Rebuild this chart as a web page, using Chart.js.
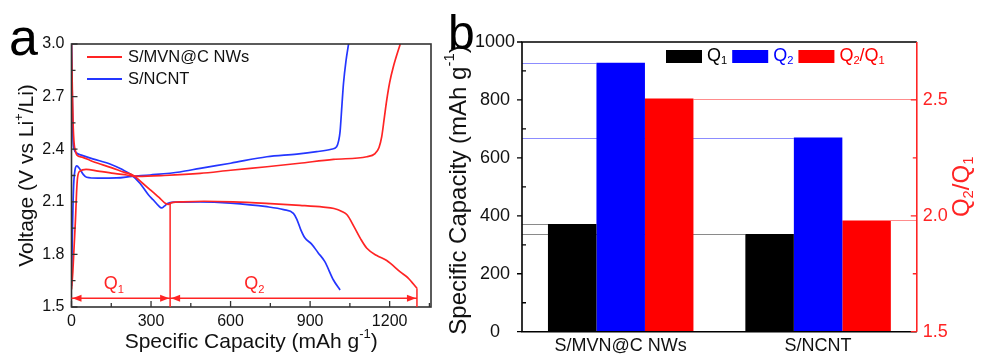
<!DOCTYPE html>
<html>
<head>
<meta charset="utf-8">
<script src="https://cdn.jsdelivr.net/npm/chart.js@4.4.1/dist/chart.umd.min.js"></script>
<style>
  html, body { margin: 0; padding: 0; background: #fff; }
  #wrap { position: relative; width: 982px; height: 356px; overflow: hidden; background: #fff; }
  .box { position: absolute; top: 0; height: 356px; }
  #boxA { left: 0; width: 450px; }
  #boxB { left: 440px; width: 542px; }
</style>
</head>
<body>
<div id="wrap">
  <div class="box" id="boxA"><canvas id="chartA" width="450" height="356"></canvas></div>
  <div class="box" id="boxB"><canvas id="chartB" width="542" height="356"></canvas></div>
</div>
<script>
// ---- panel a: charge/discharge curves ----
const mvnDisCap = [0, 3, 6, 10, 15, 20, 40, 80, 150, 200, 232, 265, 296, 330, 355, 366, 378, 420, 500, 610, 750, 862, 950, 990, 1020, 1040, 1065, 1090, 1114, 1150, 1189, 1202, 1240, 1270, 1303];
const mvnDisV   = [3.0, 2.75, 2.55, 2.43, 2.39, 2.367, 2.355, 2.33, 2.295, 2.268, 2.252, 2.21, 2.17, 2.125, 2.09, 2.085, 2.095, 2.1, 2.103, 2.1, 2.09, 2.08, 2.07, 2.062, 2.045, 2.025, 1.96, 1.89, 1.835, 1.795, 1.765, 1.75, 1.70, 1.665, 1.607];
const mvnChgCap = [0, 5, 10, 15, 19, 23, 32, 55, 100, 160, 208, 250, 350, 485, 600, 737, 860, 988, 1114, 1145, 1160, 1170, 1180, 1189, 1200, 1214, 1240];
const mvnChgV   = [1.6, 1.7, 1.85, 2.0, 2.15, 2.24, 2.275, 2.285, 2.275, 2.262, 2.253, 2.245, 2.25, 2.262, 2.28, 2.30, 2.32, 2.342, 2.357, 2.375, 2.41, 2.47, 2.58, 2.68, 2.78, 2.87, 3.0];
const ncntDisCap = [0, 2, 4, 6, 10, 20, 40, 80, 145, 190, 227, 258, 290, 309, 328, 340, 350, 362, 385, 485, 600, 737, 800, 837, 850, 865, 880, 905, 930, 955, 988, 1013];
const ncntDisV   = [3.0, 2.8, 2.6, 2.45, 2.4, 2.377, 2.365, 2.345, 2.316, 2.285, 2.253, 2.206, 2.14, 2.11, 2.078, 2.065, 2.075, 2.09, 2.098, 2.1, 2.093, 2.072, 2.055, 2.034, 2.0, 1.94, 1.895, 1.86, 1.81, 1.76, 1.654, 1.597];
const ncntChgCap = [0, 3, 6, 9, 13, 20, 30, 45, 57, 100, 170, 227, 296, 409, 485, 600, 737, 850, 925, 980, 1000, 1008, 1013, 1020, 1026, 1035, 1045];
const ncntChgV   = [1.62, 1.9, 2.1, 2.22, 2.28, 2.305, 2.29, 2.255, 2.24, 2.235, 2.236, 2.245, 2.253, 2.27, 2.291, 2.32, 2.357, 2.372, 2.386, 2.4, 2.414, 2.45, 2.5, 2.65, 2.776, 2.9, 3.0];

const capTicks = [0, 300, 600, 900, 1200];
const capMinor = [150, 450, 750, 1050, 1350];
const voltTicks = [1.5, 1.8, 2.1, 2.4, 2.7, 3.0];
const voltMinor = [1.65, 1.95, 2.25, 2.55, 2.85];

// Q1 / Q2 markers (capacity limits, arrow voltage, line tops, label spots)
const qLimits = [0, 372, 1303];
const qTopsV = [null, 2.095, 1.607];
const qArrowV = 1.55;
const qLabelCap = [160, 690];
const qLabelV = 1.63;

// ---- panel b: bars ----
const groups = ['S/MVN@C NWs', 'S/NCNT'];
const q1Values = [372, 337];
const q2Values = [928, 670];
const ratioValues = [2.506, 1.98];
const capAxisTicks = [0, 200, 400, 600, 800, 1000];
const capAxisMinor = [100, 300, 500, 700, 900];
const ratioTicks = [1.5, 2.0, 2.5];
const ratioMinor = [1.75, 2.25];

const RED = '#ff2424';
const BLUE = '#2436ff';
const FONT = '"Liberation Sans", Arial, sans-serif';
Chart.defaults.font.family = FONT;
Chart.defaults.color = '#000';

const pts = (xs, ys) => xs.map((x, i) => ({ x: x, y: ys[i] }));

function richWidth(ctx, parts, size) {
  let w = 0;
  for (const [t, m] of parts) {
    ctx.font = (m ? size * 0.62 : size) + 'px ' + FONT;
    w += ctx.measureText(t).width;
  }
  return w;
}

function drawRich(ctx, parts, x, y, size, color, align, angle) {
  ctx.save();
  ctx.translate(x, y);
  if (angle) ctx.rotate(angle);
  ctx.fillStyle = color;
  ctx.textBaseline = 'middle';
  ctx.textAlign = 'left';
  const w = richWidth(ctx, parts, size);
  let cx = align === 'center' ? -w / 2 : (align === 'right' ? -w : 0);
  for (const [t, m] of parts) {
    const s = m ? size * 0.62 : size;
    ctx.font = s + 'px ' + FONT;
    const dy = m === 'sub' ? size * 0.3 : (m === 'sup' ? -size * 0.36 : 0);
    ctx.fillText(t, cx, dy);
    cx += ctx.measureText(t).width;
  }
  ctx.restore();
}

function tickMarks(chart, id, values, len, color, outward) {
  const s = chart.scales[id], a = chart.chartArea, ctx = chart.ctx;
  ctx.save();
  ctx.strokeStyle = color;
  ctx.lineWidth = 1.3;
  ctx.beginPath();
  for (const v of values) {
    const p = s.getPixelForValue(v);
    if (s.isHorizontal()) {
      ctx.moveTo(p, a.bottom);
      ctx.lineTo(p, outward ? a.bottom + len : a.bottom - len);
    } else if (s.position === 'left') {
      ctx.moveTo(a.left, p);
      ctx.lineTo(outward ? a.left - len : a.left + len, p);
    } else {
      ctx.moveTo(a.right, p);
      ctx.lineTo(outward ? a.right + len : a.right - len, p);
    }
  }
  ctx.stroke();
  ctx.restore();
}

function arrowHead(ctx, x, y, dir) {
  ctx.beginPath();
  ctx.moveTo(x, y);
  ctx.lineTo(x - dir * 9, y - 3.5);
  ctx.lineTo(x - dir * 9, y + 3.5);
  ctx.closePath();
  ctx.fill();
}

const panelA = {
  id: 'panelA',
  afterDraw(chart) {
    const ctx = chart.ctx, a = chart.chartArea;
    const xs = chart.scales.x, ys = chart.scales.y;

    ctx.save();
    ctx.strokeStyle = '#333';
    ctx.lineWidth = 1.6;
    ctx.strokeRect(a.left, a.top, a.right - a.left, a.bottom - a.top);
    ctx.restore();
    tickMarks(chart, 'x', capTicks, 6, '#333', false);
    tickMarks(chart, 'x', capMinor, 4, '#333', false);
    tickMarks(chart, 'y', voltTicks, 6, '#333', false);
    tickMarks(chart, 'y', voltMinor, 4, '#333', false);

    // Q1 / Q2 markers
    ctx.save();
    ctx.strokeStyle = RED;
    ctx.fillStyle = RED;
    ctx.lineWidth = 1.5;
    const yb = ys.getPixelForValue(1.5);
    const ya = ys.getPixelForValue(qArrowV);
    ctx.beginPath();
    for (let i = 1; i < qLimits.length; i++) {
      const px = xs.getPixelForValue(qLimits[i]);
      ctx.moveTo(px, yb);
      ctx.lineTo(px, ys.getPixelForValue(qTopsV[i]));
    }
    ctx.moveTo(xs.getPixelForValue(qLimits[0]), ya);
    ctx.lineTo(xs.getPixelForValue(qLimits[2]), ya);
    ctx.stroke();
    for (let i = 0; i < qLimits.length - 1; i++) {
      arrowHead(ctx, xs.getPixelForValue(qLimits[i]) + 1, ya, -1);
      arrowHead(ctx, xs.getPixelForValue(qLimits[i + 1]) - 1, ya, 1);
    }
    ctx.restore();
    drawRich(ctx, [['Q', ''], ['1', 'sub']], xs.getPixelForValue(qLabelCap[0]), ys.getPixelForValue(qLabelV), 18, RED, 'center');
    drawRich(ctx, [['Q', ''], ['2', 'sub']], xs.getPixelForValue(qLabelCap[1]), ys.getPixelForValue(qLabelV), 18, RED, 'center');

    // legend
    const items = [['S/MVN@C NWs', RED, 57], ['S/NCNT', BLUE, 79]];
    ctx.save();
    ctx.lineWidth = 1.8;
    for (const [label, color, y] of items) {
      ctx.strokeStyle = color;
      ctx.beginPath();
      ctx.moveTo(87, y);
      ctx.lineTo(122, y);
      ctx.stroke();
      drawRich(ctx, [[label, '']], 128, y, 16.5, '#111', 'left');
    }
    ctx.restore();

    // axis titles
    drawRich(ctx, [['Specific Capacity (mAh g', ''], ['-1', 'sup'], [')', '']], (a.left + a.right) / 2, 342, 21, '#111', 'center');
    drawRich(ctx, [['Voltage (V vs Li', ''], ['+', 'sup'], ['/Li)', '']], 27, (a.top + a.bottom) / 2, 21, '#111', 'center', -Math.PI / 2);

    ctx.save();
    ctx.fillStyle = '#000';
    ctx.font = '52px ' + FONT;
    ctx.textBaseline = 'alphabetic';
    ctx.fillText('a', 9, 55);
    ctx.restore();
  }
};

new Chart(document.getElementById('chartA'), {
  type: 'scatter',
  data: {
    datasets: [
      { label: 'S/MVN@C NWs', data: pts(mvnDisCap, mvnDisV), borderColor: RED },
      { label: 'S/MVN@C NWs charge', data: pts(mvnChgCap, mvnChgV), borderColor: RED },
      { label: 'S/NCNT', data: pts(ncntDisCap, ncntDisV), borderColor: BLUE },
      { label: 'S/NCNT charge', data: pts(ncntChgCap, ncntChgV), borderColor: BLUE }
    ]
  },
  options: {
    responsive: false,
    animation: false,
    layout: { padding: { left: 0, right: 19, top: 44, bottom: 0 } },
    elements: {
      point: { radius: 0 },
      line: { borderWidth: 1.7, cubicInterpolationMode: 'monotone', fill: false }
    },
    datasets: { scatter: { showLine: true } },
    plugins: { legend: { display: false }, tooltip: { enabled: false } },
    scales: {
      x: {
        type: 'linear', min: 0, max: 1356,
        grid: { display: false, drawTicks: false }, border: { display: false },
        afterBuildTicks: s => { s.ticks = capTicks.map(v => ({ value: v })); },
        afterFit: s => { s.height = 49; },
        ticks: { padding: 5, color: '#111', font: { size: 16 }, callback: v => String(v) }
      },
      y: {
        type: 'linear', min: 1.5, max: 3.0,
        grid: { display: false, drawTicks: false }, border: { display: false },
        afterBuildTicks: s => { s.ticks = voltTicks.map(v => ({ value: v })); },
        afterFit: s => { s.width = 71.5; },
        ticks: { padding: 7, color: '#111', font: { size: 16 }, callback: v => v.toFixed(1) }
      }
    }
  },
  plugins: [panelA]
});

const panelB = {
  id: 'panelB',
  beforeDatasetsDraw(chart) {
    const ctx = chart.ctx, a = chart.chartArea;
    ctx.save();
    ctx.lineWidth = 1;
    const leftSets = [[0, '#8a8a8a'], [1, '#8c8cff']];
    for (const [di, color] of leftSets) {
      const meta = chart.getDatasetMeta(di);
      ctx.strokeStyle = color;
      ctx.beginPath();
      meta.data.forEach(bar => {
        ctx.moveTo(a.left, Math.round(bar.y) + 0.5);
        ctx.lineTo(bar.x - bar.width / 2, Math.round(bar.y) + 0.5);
      });
      ctx.stroke();
    }
    const meta = chart.getDatasetMeta(2);
    ctx.strokeStyle = '#ff8c8c';
    ctx.beginPath();
    meta.data.forEach(bar => {
      ctx.moveTo(bar.x + bar.width / 2, Math.round(bar.y) + 0.5);
      ctx.lineTo(a.right, Math.round(bar.y) + 0.5);
    });
    ctx.stroke();
    ctx.restore();
  },
  afterDraw(chart) {
    const ctx = chart.ctx, a = chart.chartArea;
    ctx.save();
    ctx.lineWidth = 1.6;
    ctx.strokeStyle = '#000';
    ctx.beginPath();
    ctx.moveTo(a.right, a.top);
    ctx.lineTo(a.left, a.top);
    ctx.lineTo(a.left, a.bottom);
    ctx.lineTo(a.right, a.bottom);
    ctx.stroke();
    ctx.strokeStyle = RED;
    ctx.beginPath();
    ctx.moveTo(a.right, a.top);
    ctx.lineTo(a.right, a.bottom);
    ctx.stroke();
    ctx.restore();
    tickMarks(chart, 'y', capAxisTicks, 5, '#000', true);
    tickMarks(chart, 'y', capAxisMinor, 4, '#000', false);
    tickMarks(chart, 'y1', ratioTicks, 6, RED, false);
    tickMarks(chart, 'y1', ratioMinor, 4, RED, false);

    // legend
    const legend = [
      [[['Q', ''], ['1', 'sub']], '#000'],
      [[['Q', ''], ['2', 'sub']], '#0000ff'],
      [[['Q', ''], ['2', 'sub'], ['/Q', ''], ['1', 'sub']], '#ff0000']
    ];
    let lx = 226;
    for (const [parts, color] of legend) {
      ctx.fillStyle = color;
      ctx.fillRect(lx, 50, 36, 13);
      lx += 41;
      drawRich(ctx, parts, lx, 56, 18, color, 'left');
      lx += richWidth(ctx, parts, 18) + 5;
    }

    // axis titles
    drawRich(ctx, [['Specific Capacity (mAh g', ''], ['-1', 'sup'], [')', '']], 19, 190, 24, '#111', 'center', -Math.PI / 2);
    drawRich(ctx, [['Q', ''], ['2', 'sub'], ['/Q', ''], ['1', 'sub']], 522, (a.top + a.bottom) / 2, 24, RED, 'center', -Math.PI / 2);

    ctx.save();
    ctx.fillStyle = '#000';
    ctx.font = '48px ' + FONT;
    ctx.textBaseline = 'alphabetic';
    ctx.fillText('b', 8, 49);
    ctx.restore();
  }
};

new Chart(document.getElementById('chartB'), {
  type: 'bar',
  data: {
    labels: groups,
    datasets: [
      { label: 'Q1', data: q1Values, backgroundColor: '#000000', yAxisID: 'y' },
      { label: 'Q2', data: q2Values, backgroundColor: '#0000ff', yAxisID: 'y' },
      { label: 'Q2/Q1', data: ratioValues, backgroundColor: '#ff0000', yAxisID: 'y1' }
    ]
  },
  options: {
    responsive: false,
    animation: false,
    layout: { padding: { left: 0, right: 0, top: 42, bottom: 0 } },
    datasets: { bar: { barPercentage: 1, categoryPercentage: 0.737, borderWidth: 0 } },
    plugins: { legend: { display: false }, tooltip: { enabled: false } },
    scales: {
      x: {
        grid: { display: false, drawTicks: false }, border: { display: false },
        afterFit: s => { s.height = 24.3; },
        ticks: { padding: 4, color: '#111', font: { size: 18 }, maxRotation: 0, autoSkip: false }
      },
      y: {
        position: 'left', min: 0, max: 1000,
        grid: { display: false, drawTicks: false }, border: { display: false },
        afterBuildTicks: s => { s.ticks = capAxisTicks.map(v => ({ value: v })); },
        afterFit: s => { s.width = 82; },
        ticks: { padding: 7, crossAlign: 'center', color: '#111', font: { size: 18 }, callback: v => String(v) }
      },
      y1: {
        position: 'right', min: 1.5, max: 2.75,
        grid: { display: false, drawTicks: false }, border: { display: false },
        afterBuildTicks: s => { s.ticks = ratioTicks.map(v => ({ value: v })); },
        afterFit: s => { s.width = 65.2; },
        ticks: { padding: 6, color: RED, font: { size: 18 }, callback: v => v.toFixed(1) }
      }
    }
  },
  plugins: [panelB]
});
</script>
</body>
</html>
